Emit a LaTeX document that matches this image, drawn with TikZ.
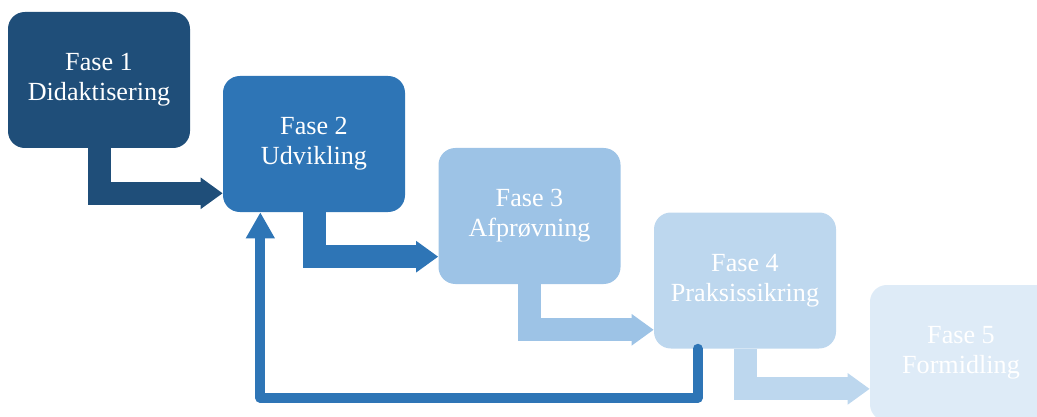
\documentclass[tikz,border=0pt]{standalone}
\usepackage{fontspec}
\setmainfont{Liberation Serif}
\usetikzlibrary{arrows.meta}
\definecolor{faseA}{HTML}{1F4E79}
\definecolor{faseB}{HTML}{2E75B6}
\definecolor{faseC}{HTML}{9DC3E6}
\definecolor{faseD}{HTML}{BDD7EE}
\definecolor{faseE}{HTML}{DEEBF7}
\tikzset{
  fase/.style={rounded corners=0.42cm,minimum width=4.55cm,minimum height=3.4cm,
    text=white,align=center,inner sep=0pt},
  blokpil/.style={line width=0.575cm,line cap=butt,line join=miter,
    -{Triangle[width=0.75cm,length=0.55cm]}},
  returpil/.style={line width=0.25cm,line cap=round,line join=round,draw=faseB,
    -{Triangle[width=0.68cm,length=0.65cm]}}
}
\begin{document}
\begin{tikzpicture}[font=\fontsize{18.6}{21.5}\selectfont]
\useasboundingbox (0,0) rectangle (25.925,-10.425);
\clip (0,0) rectangle (25.925,-10.425);
\path
(2.475,-2) coordinate (P1)
(7.85,-3.6) coordinate (P2)
(13.2375,-5.4) coordinate (P3)
(18.625,-7.0125) coordinate (P4)
(24.025,-8.825) coordinate (P5)
;
\foreach \i/\c/\t in {1/faseA/Didaktisering,2/faseB/Udvikling,3/faseC/Afprøvning,4/faseD/Praksissikring,5/faseE/Formidling}
  \node[fase,fill=\c] (b\i) at (P\i) {Fase \i\\\t};
% pile mellem faserne
\foreach \a/\b/\c/\d in {1/2/faseA/0.475,2/3/faseB/0.69,3/4/faseC/0.475,4/5/faseD/0.81}
  \draw[blokpil,draw=\c] (b\a.south) |- ([yshift=\d cm]b\b.south west);
% tilbage til fase 2
\draw[returpil] ([xshift=1.1cm]b4.south west) -- ++(0,-1.225) -| ([xshift=0.94cm]b2.south west);
\end{tikzpicture}
\end{document}
